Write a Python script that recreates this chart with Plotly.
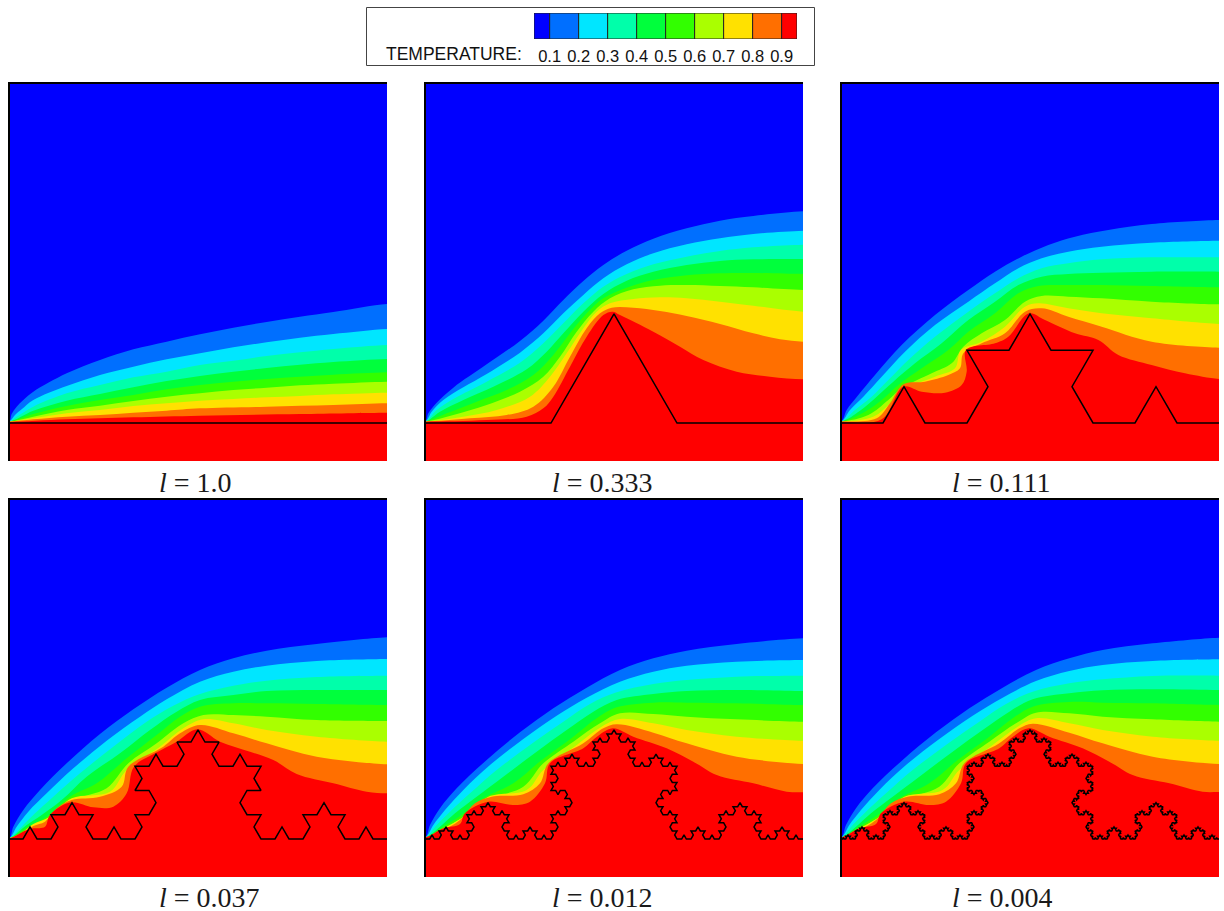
import plotly.graph_objects as go

W, H = 1224, 911

# colour legend
legend_levels = [0.1, 0.2, 0.3, 0.4, 0.5, 0.6, 0.7, 0.8, 0.9]
legend_edges = [0.046, 0.1, 0.2, 0.3, 0.4, 0.5, 0.6, 0.7, 0.8, 0.9, 0.953]
band_colors = ["#0000ff", "#006fff", "#00e6ff", "#00ffaa", "#00ff3c", "#32ff00",
               "#aaff00", "#ffe100", "#ff6f00", "#ff0000"]
captions = ["1.0", "0.333", "0.111", "0.037", "0.012", "0.004"]
koch_depths = [0, 1, 2, 3, 4, 5]

# Isotherm boundaries T = 0.1 ... 0.9, one list per panel
iso_l1000 = [
 [(27,395),(35,372),(50,350),(70,330),(100,305),(200,250),(300,210),(400,178),(500,155),(600,133),(700,113),(800,96),(900,80),(1000,66),(1161,42)],
 [(27,395),(45,375),(65,358),(100,330),(200,288),(300,255),(400,230),(500,208),(600,190),(700,172),(800,157),(900,143),(1000,132),(1161,117)],
 [(27,395),(50,380),(100,350),(200,310),(300,285),(400,262),(500,245),(600,225),(700,212),(800,198),(900,187),(1000,177),(1161,165)],
 [(27,395),(100,362),(200,332),(300,312),(400,292),(500,273),(600,258),(700,245),(800,234),(900,224),(1000,216),(1161,207)],
 [(27,395),(100,372),(200,348),(300,330),(400,315),(500,298),(600,285),(700,275),(800,267),(900,260),(1000,254),(1161,247)],
 [(27,395),(100,380),(200,360),(300,347),(400,333),(500,320),(600,310),(700,300),(800,293),(900,286),(1000,281),(1161,275)],
 [(27,395),(100,385),(200,370),(300,360),(400,348),(500,340),(600,332),(700,327),(800,322),(900,318),(1000,313),(1161,308)],
 [(27,395),(100,388),(200,380),(300,375),(400,368),(500,362),(600,355),(800,350),(1000,345),(1161,340)],
 [(27,396),(200,388),(400,382),(600,377),(900,372),(1161,368)],
]
iso_l0333 = [
 [(15,665),(25,640),(50,608),(100,563),(200,493),(300,423),(370,362),(430,300),(490,243),(550,195),(620,152),(700,116),(800,85),(900,62),(1000,48),(1149,34)],
 [(15,665),(35,635),(70,600),(130,562),(200,522),(300,458),(370,400),(430,340),(490,285),(550,235),(620,193),(700,160),(800,133),(900,115),(1000,102),(1149,92)],
 [(15,665),(50,630),(100,597),(200,545),(300,488),(370,430),(430,370),(490,310),(550,260),(620,222),(700,193),(800,170),(900,153),(1000,142),(1149,134)],
 [(15,665),(60,635),(130,600),(220,560),(320,508),(380,455),(430,400),(490,335),(550,282),(620,242),(700,215),(800,195),(900,183),(1000,178),(1149,177)],
 [(15,665),(80,640),(170,605),(260,570),(340,525),(400,465),(450,400),(500,340),(550,295),(620,263),(700,240),(800,226),(900,220),(1000,219),(1149,222)],
 [(15,665),(100,645),(200,615),(300,575),(370,530),(420,470),(470,395),(520,335),(570,295),(640,268),(720,257),(800,255),(900,258),(1000,262),(1149,270)],
 [(15,665),(130,650),(230,630),(330,590),(390,530),(440,460),(490,385),(530,335),(570,310),(640,297),(720,292),(800,295),(900,305),(1000,317),(1149,335)],
 [(15,665),(150,655),(260,645),(340,620),(400,560),(450,470),(500,385),(540,340),(575,323),(640,323),(720,333),(800,348),(900,372),(1000,400),(1080,418),(1149,425)],
 [(15,665),(200,660),(320,650),(370,625),(400,590),(450,500),(500,410),(550,345),(578,335),(600,345),(700,395),(780,440),(850,480),(950,515),(1050,530),(1149,538)],
]
iso_l0111 = [
 [(18,665),(35,630),(70,585),(120,525),(200,435),(300,345),(400,270),(480,215),(560,170),(640,135),(720,110),(820,90),(950,72),(1152,60)],
 [(18,665),(45,630),(85,590),(140,530),(210,455),(300,375),(400,305),(480,250),(550,205),(620,175),(700,155),(800,140),(950,128),(1152,122)],
 [(18,665),(60,630),(110,590),(160,540),(220,480),(300,410),(400,335),(480,280),(550,235),(620,205),(700,190),(800,178),(950,172),(1152,172)],
 [(18,665),(75,632),(125,590),(175,545),(240,490),(320,430),(400,360),(480,305),(550,255),(620,230),(700,222),(800,218),(950,215),(1152,215)],
 [(18,665),(90,635),(140,600),(190,555),(260,505),(340,450),(400,395),(480,340),(550,280),(610,258),(700,255),(800,255),(950,258),(1152,262)],
 [(18,665),(100,645),(160,600),(200,565),(290,520),(350,490),(385,440),(440,400),(510,360),(570,305),(620,288),(700,290),(800,295),(950,305),(1152,313)],
 [(18,665),(115,650),(170,605),(205,570),(300,530),(360,505),(378,450),(440,425),(510,380),(570,320),(610,310),(700,325),(800,340),(950,355),(1152,372)],
 [(18,665),(125,655),(165,610),(205,553),(270,545),(340,525),(375,505),(385,460),(440,430),(510,400),(570,335),(620,325),(700,350),(800,380),(950,425),(1152,443)],
 [(18,665),(140,658),(205,560),(260,575),(330,578),(380,555),(395,515),(393,450),(480,430),(520,410),(582,340),(630,360),(720,400),(790,420),(850,465),(950,495),(1050,520),(1152,537)],
]
iso_l0037 = [
 [(27,655),(40,620),(70,570),(120,510),(200,430),(300,342),(400,268),(500,203),(600,150),(700,115),(800,92),(950,72),(1161,52)],
 [(27,655),(50,620),(85,575),(140,520),(220,445),(320,362),(420,290),(500,238),(600,185),(700,155),(800,137),(950,123),(1161,117)],
 [(27,655),(65,620),(105,580),(160,530),(240,460),(340,380),(440,305),(520,257),(600,222),(700,197),(800,182),(950,171),(1161,167)],
 [(27,655),(80,615),(125,585),(185,540),(260,470),(360,400),(450,330),(530,275),(600,240),(700,225),(800,213),(950,210),(1161,210)],
 [(27,655),(85,620),(140,590),(210,530),(290,490),(380,415),(470,345),(540,290),(600,260),(700,250),(800,250),(950,252),(1161,255)],
 [(27,655),(90,625),(150,590),(220,540),(320,505),(385,430),(470,370),(550,310),(610,285),(700,285),(800,290),(950,300),(1161,303)],
 [(27,655),(70,635),(100,612),(150,590),(215,535),(330,515),(380,450),(480,380),(550,325),(610,298),(700,310),(800,330),(950,350),(1161,365)],
 [(27,655),(70,640),(100,618),(135,605),(170,565),(215,540),(300,530),(365,500),(385,440),(490,380),(540,340),(600,315),(700,340),(800,370),(950,410),(1161,433)],
 [(27,655),(80,630),(100,625),(135,620),(150,585),(212,547),(280,562),(340,560),(380,520),(402,440),(465,400),(530,365),(592,328),(660,365),(750,395),(820,420),(890,462),(1000,490),(1100,515),(1161,520)],
]
iso_l0012 = [
 [(15,653),(30,615),(60,565),(110,505),(200,420),(300,337),(400,265),(500,203),(600,150),(700,115),(800,92),(950,72),(1149,55)],
 [(15,653),(40,615),(75,570),(130,510),(210,435),(310,357),(410,287),(500,233),(600,185),(700,155),(800,137),(950,125),(1149,120)],
 [(15,653),(50,615),(90,575),(150,520),(230,450),(330,375),(430,305),(510,252),(590,217),(700,192),(800,180),(950,170),(1149,167)],
 [(15,653),(60,620),(105,580),(170,530),(250,470),(350,395),(440,330),(520,275),(590,240),(700,222),(800,213),(950,210),(1149,213)],
 [(15,653),(70,620),(125,585),(190,535),(280,490),(365,420),(460,350),(530,295),(590,262),(700,248),(800,248),(950,250),(1149,255)],
 [(15,653),(80,620),(140,585),(200,540),(310,500),(370,430),(460,365),(540,310),(600,280),(700,282),(800,290),(950,298),(1149,305)],
 [(15,653),(60,630),(100,610),(145,580),(205,530),(320,510),(370,450),(470,375),(545,320),(600,297),(700,310),(800,330),(950,350),(1149,362)],
 [(15,653),(60,635),(120,600),(165,550),(215,530),(310,523),(360,490),(385,430),(490,370),(550,325),(590,313),(700,338),(800,370),(950,410),(1149,432)],
 [(15,653),(70,625),(120,612),(135,580),(205,545),(280,555),(330,545),(375,490),(390,430),(490,385),(525,355),(578,325),(640,350),(740,385),(820,425),(890,465),(1000,490),(1100,515),(1149,517)],
]
iso_l0004 = [
 [(18,653),(33,615),(63,565),(113,505),(203,420),(303,337),(403,265),(503,203),(603,150),(703,115),(803,90),(953,70),(1152,53)],
 [(18,653),(43,615),(78,570),(133,510),(213,435),(313,357),(413,287),(503,233),(603,183),(703,153),(803,135),(953,123),(1152,118)],
 [(18,653),(53,615),(93,575),(153,520),(233,450),(333,375),(433,305),(513,252),(593,215),(703,190),(803,178),(953,168),(1152,167)],
 [(18,653),(63,620),(108,580),(173,530),(253,470),(353,395),(443,330),(523,275),(593,238),(703,220),(803,211),(953,208),(1152,210)],
 [(18,653),(73,620),(128,585),(193,535),(283,490),(368,420),(463,350),(533,295),(593,260),(703,246),(803,248),(953,250),(1152,255)],
 [(18,653),(83,620),(143,585),(203,540),(313,500),(373,430),(463,365),(543,310),(603,278),(703,280),(803,290),(953,298),(1152,305)],
 [(18,653),(63,630),(103,610),(148,580),(208,530),(323,510),(373,450),(473,375),(548,320),(603,295),(703,310),(803,330),(953,350),(1152,362)],
 [(18,653),(63,635),(123,600),(168,550),(218,530),(313,523),(363,490),(388,430),(493,370),(553,325),(593,311),(703,338),(803,370),(953,410),(1152,432)],
 [(18,653),(73,625),(123,612),(138,580),(208,545),(283,555),(333,545),(378,490),(393,430),(493,385),(528,355),(581,325),(643,350),(743,385),(823,425),(893,465),(1003,490),(1103,515),(1152,516)],
]
panel_isotherms = [iso_l1000, iso_l0333, iso_l0111, iso_l0037, iso_l0012, iso_l0004]

# panel geometry in page pixels
panel_left = [9, 425, 841, 9, 425, 841]
panel_top = [83, 83, 83, 499, 499, 499]
caption_left = [157, 550, 950, 157, 550, 950]
caption_mid = [482, 482, 482, 897, 897, 897]
panel_size = 378
# where each panel's axis window starts, in the reading units above
range_x0 = [27, 15, 18, 27, 15, 18]
range_ybot = [513, 783, 783, 771, 771, 771]
span = 1134
baseline = 114


def koch(depth):
    """Koch curve of the given depth on a base of length `span`."""
    pts = [(0.0, 0.0), (float(span), 0.0)]
    for _ in range(depth):
        out = [pts[0]]
        for (ax, ay), (bx, by) in zip(pts[:-1], pts[1:]):
            dx, dy = (bx - ax) / 3, (by - ay) / 3
            px, py = ax + dx, ay + dy
            qx, qy = ax + 2 * dx, ay + 2 * dy
            tx = px + dx * 0.5 - dy * 0.8660254
            ty = py + dy * 0.5 + dx * 0.8660254
            out += [(px, py), (tx, ty), (qx, qy), (bx, by)]
        pts = out
    return pts


fig = go.Figure()
layout = dict(width=W, height=H, autosize=False, margin=dict(l=0, r=0, t=0, b=0, pad=0),
              paper_bgcolor="white", plot_bgcolor="white", showlegend=False, barmode="overlay")
annotations = []
shapes = []

for i in range(6):
    n = "" if i == 0 else str(i + 1)
    xa, ya = "x" + n, "y" + n
    x0, yb = range_x0[i], range_ybot[i]
    layout["xaxis" + n] = dict(
        domain=[panel_left[i] / W, (panel_left[i] + panel_size) / W],
        range=[x0, x0 + span], anchor=ya, showline=False,
        showgrid=False, zeroline=False, showticklabels=False, ticks="", fixedrange=True)
    layout["yaxis" + n] = dict(
        domain=[1 - (panel_top[i] + panel_size) / H, 1 - panel_top[i] / H],
        range=[yb, yb - span], anchor=xa, showline=False,
        showgrid=False, zeroline=False, showticklabels=False, ticks="", fixedrange=True)
    # coldest band as full background
    fig.add_trace(go.Scatter(
        x=[x0 - 60, x0 + span + 60, x0 + span + 60, x0 - 60], y=[yb + 60, yb + 60, yb - span - 60, yb - span - 60],
        mode="lines", fill="toself", fillcolor=band_colors[0], line=dict(width=0), xaxis=xa, yaxis=ya, hoverinfo="skip"))
    for lev, curve in enumerate(panel_isotherms[i]):
        xs = [p[0] for p in curve]
        ys = [p[1] for p in curve]
        xs = [x0 - 60] + xs + [x0 + span + 60, x0 + span + 60, x0 - 60]
        ys = [ys[0]] + ys + [ys[-1], yb + 60, yb + 60]
        fig.add_trace(go.Scatter(
            x=xs, y=ys, mode="lines", fill="toself", fillcolor=band_colors[lev + 1],
            line=dict(width=0, shape="spline", smoothing=1), xaxis=xa, yaxis=ya, hoverinfo="skip"))
    k = koch(koch_depths[i])
    fig.add_trace(go.Scatter(
        x=[x0 + p[0] for p in k], y=[yb - baseline - p[1] for p in k], mode="lines",
        line=dict(color="black", width=1.5), xaxis=xa, yaxis=ya, hoverinfo="skip"))
    # top and left frame lines
    L, T = panel_left[i], panel_top[i]
    shapes.append(dict(type="rect", xref="paper", yref="paper", layer="above", line=dict(width=0), fillcolor="black",
                       x0=(L - 1) / W, x1=(L + 1) / W, y0=1 - (T + panel_size) / H, y1=1 - (T - 1) / H))
    shapes.append(dict(type="rect", xref="paper", yref="paper", layer="above", line=dict(width=0), fillcolor="black",
                       x0=(L - 1) / W, x1=(L + panel_size) / W, y0=1 - (T + 1) / H, y1=1 - (T - 1) / H))
    annotations.append(dict(
        text="<i>l</i> = " + captions[i], xref="paper", yref="paper",
        x=caption_left[i] / W, y=1 - caption_mid[i] / H, xanchor="left", yanchor="middle", height=26,
        showarrow=False, font=dict(family="Liberation Serif", size=28, color="#1a1a1a")))

# legend colour bar on its own small axis
for c, a, b in zip(band_colors, legend_edges[:-1], legend_edges[1:]):
    fig.add_trace(go.Bar(
        x=[b - a], base=[a], y=[0], orientation="h", width=1, marker=dict(color=c, line=dict(color="#222222", width=1)),
        xaxis="x7", yaxis="y7", hoverinfo="skip"))
layout["xaxis7"] = dict(
    domain=[534 / W, 797 / W], range=[legend_edges[0], legend_edges[-1]], anchor="y7", side="bottom",
    tickmode="array", tickvals=legend_levels, ticktext=[f"{v:.1f}" for v in legend_levels],
    ticks="outside", ticklen=2, tickcolor="rgba(0,0,0,0)",
    tickfont=dict(family="Liberation Sans", size=16.5, color="#111111"),
    showgrid=False, zeroline=False, showline=False, fixedrange=True)
layout["yaxis7"] = dict(
    domain=[1 - 39 / H, 1 - 13 / H], range=[-0.5, 0.5], anchor="x7", showticklabels=False, ticks="",
    showgrid=False, zeroline=False, showline=False, fixedrange=True)
annotations.append(dict(
    text="TEMPERATURE:", xref="paper", yref="paper", x=524 / W, y=1 - 54 / H, xanchor="right", yanchor="middle",
    showarrow=False, font=dict(family="Liberation Sans", size=17.5, color="#111111")))
layout["annotations"] = annotations
shapes.append(dict(type="rect", xref="paper", yref="paper", layer="below",
                   x0=366.5 / W, x1=814.5 / W, y0=1 - 65.5 / H, y1=1 - 7.5 / H,
                   line=dict(color="#444444", width=1), fillcolor="white"))
layout["shapes"] = shapes
fig.update_layout(**layout)
fig.write_html("out.html", post_script="document.body.style.margin='0';",
               config={"displayModeBar": False})
